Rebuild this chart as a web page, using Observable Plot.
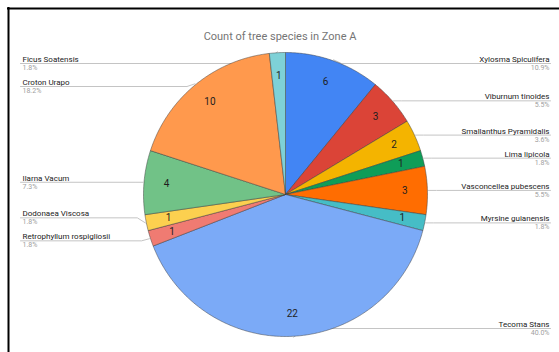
<!DOCTYPE html>
<html>
<head>
<meta charset="utf-8">
<script src="https://cdn.jsdelivr.net/npm/d3@7"></script>
<script src="https://cdn.jsdelivr.net/npm/@observablehq/plot@0.6"></script>
<style>
  html, body { margin: 0; padding: 0; background: #fff; }
  #chart { width: 559px; height: 352px; overflow: hidden; }
</style>
</head>
<body>
<div id="chart"></div>
<script>
// Tree species counted in Zone A, clockwise from 12 o'clock
const title = "Count of tree species in Zone A";
const species = [
  "Xylosma Spiculifera",
  "Viburnum tinoides",
  "Smallanthus Pyramidalis",
  "Lima lipicola",
  "Vasconcellea pubescens",
  "Myrsine guianensis",
  "Tecoma Stans",
  "Retrophyllum rospigliosii",
  "Dodonaea Viscosa",
  "Ilarna Vacum",
  "Croton Urapo",
  "Ficus Soatensis"
];
const counts = [6, 3, 2, 1, 3, 1, 22, 1, 1, 4, 10, 1];
const sliceColors = [
  "#4285F4", "#DB4437", "#F4B400", "#0F9D58", "#FF6D01", "#46BDC6",
  "#7BAAF7", "#F07B72", "#FCD04F", "#71C287", "#FF994D", "#7ED1D7"
];

// Pie geometry (pixel units of the x/y scales)
const W = 559, H = 352;
const cx = 285, cy = 194, R = 142;
const total = d3.sum(counts);
const pct = d3.format(".1%");

const arcs = d3.pie().sort(null).value(d => d)(counts);
const pt = (a, r) => [cx + r * Math.sin(a), cy - r * Math.cos(a)];

// Slice outlines as closed polygons
const slicePts = [];
arcs.forEach((a, i) => {
  const name = species[i];
  slicePts.push({name, x: cx, y: cy});
  const n = Math.max(2, Math.ceil((a.endAngle - a.startAngle) / 0.01));
  for (let k = 0; k <= n; k++) {
    const t = a.startAngle + (a.endAngle - a.startAngle) * k / n;
    const [x, y] = pt(t, R);
    slicePts.push({name, x, y});
  }
  slicePts.push({name, x: cx, y: cy});
});

// Value labels inside slices
const inner = arcs.map((a, i) => {
  const m = (a.startAngle + a.endAngle) / 2;
  const [x, y] = pt(m, R * 0.84);
  return {x, y, v: counts[i]};
});

// Outside labels with leader lines, stacked without overlap on each side
const labels = arcs.map((a, i) => {
  const m = (a.startAngle + a.endAngle) / 2;
  const [ex, ey] = pt(m, R + 1);
  const right = m < Math.PI;
  return {i, m, ex, ey, right, ly: Math.min(328, Math.max(63, ey))};
});
for (const side of [true, false]) {
  const group = labels.filter(d => d.right === side).sort((a, b) => a.ly - b.ly);
  const gap = 23;
  for (let iter = 0; iter < 50; iter++) {
    for (let k = 1; k < group.length; k++) {
      const over = gap - (group[k].ly - group[k - 1].ly);
      if (over > 0) {
        group[k - 1].ly -= over * 0.7;
        group[k].ly += over * 0.3;
      }
    }
    for (const d of group) d.ly = Math.min(328, Math.max(63, d.ly));
  }
}
const leader = [];
labels.forEach(d => {
  const name = species[d.i];
  const elbowX = d.right ? d.ex + 8 : d.ex - 8;
  const endX = d.right ? 550 : 20;
  leader.push({name, x: d.ex, y: d.ey});
  leader.push({name, x: elbowX, y: d.ly});
  leader.push({name, x: endX, y: d.ly});
});
const nameText = labels.map(d => ({
  x: d.right ? 549 : 22, y: d.ly - 1.5, t: species[d.i], right: d.right
}));
const pctText = labels.map(d => ({
  x: d.right ? 549 : 22, y: d.ly + 1.5, t: pct(counts[d.i] / total), right: d.right
}));

const chart = Plot.plot({
  width: W,
  height: H,
  margin: 0,
  style: {background: "#fff", fontFamily: "Roboto, 'Liberation Sans', Arial, sans-serif"},
  x: {domain: [0, W], range: [0, W], axis: null},
  y: {domain: [0, H], range: [0, H], axis: null},
  color: {domain: species, range: sliceColors},
  marks: [
    // chart border along the top and left edges
    Plot.ruleY([8], {x1: 7, x2: W, stroke: "#000", strokeWidth: 2}),
    Plot.ruleX([8], {y1: 7, y2: H, stroke: "#000", strokeWidth: 2}),
    Plot.text([title], {frameAnchor: "top", dy: 32, fontSize: 11, fill: "#757575"}),
    Plot.line(leader, {x: "x", y: "y", z: "name", stroke: "#c4c4c4", strokeWidth: 1}),
    Plot.line(slicePts, {x: "x", y: "y", z: "name", fill: "name", stroke: "#3a3a3a", strokeWidth: 0.6, strokeOpacity: 0.8}),
    Plot.text(inner, {x: "x", y: "y", text: "v", fontSize: 10, fill: "#1e1e1e"}),
    Plot.text(nameText.filter(d => d.right), {x: "x", y: "y", text: "t", textAnchor: "end", lineAnchor: "bottom", fontSize: 8, fill: "#222"}),
    Plot.text(nameText.filter(d => !d.right), {x: "x", y: "y", text: "t", textAnchor: "start", lineAnchor: "bottom", fontSize: 8, fill: "#222"}),
    Plot.text(pctText.filter(d => d.right), {x: "x", y: "y", text: "t", textAnchor: "end", lineAnchor: "top", fontSize: 7, fill: "#a0a0a0"}),
    Plot.text(pctText.filter(d => !d.right), {x: "x", y: "y", text: "t", textAnchor: "start", lineAnchor: "top", fontSize: 7, fill: "#a0a0a0"})
  ]
});
document.getElementById("chart").append(chart);
</script>
</body>
</html>
